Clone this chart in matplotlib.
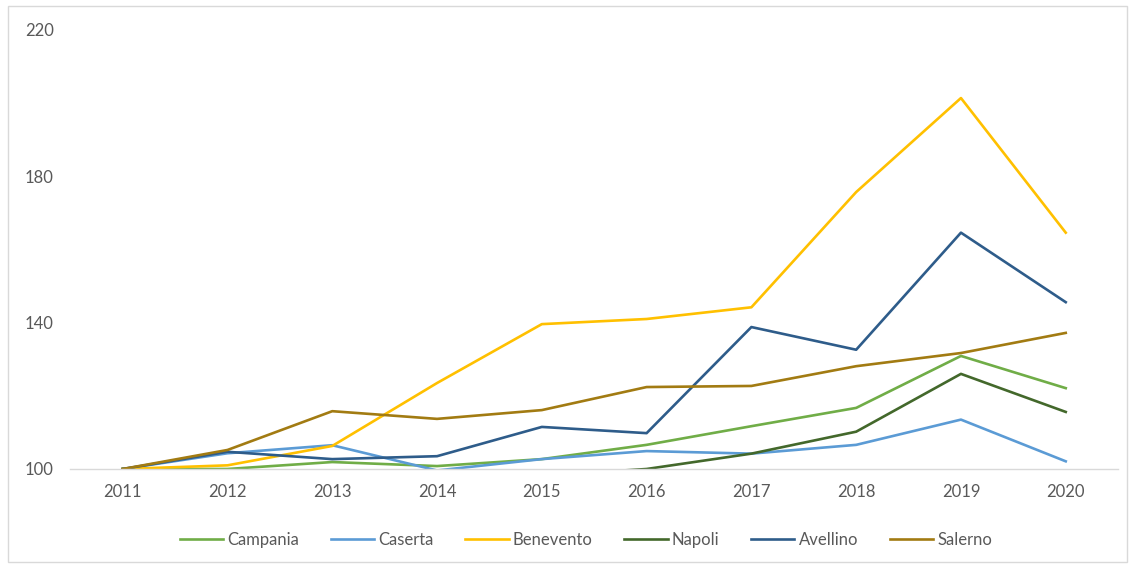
import matplotlib.pyplot as plt
from matplotlib.patches import Rectangle

# Index values (2011 = 100)
years = [2011, 2012, 2013, 2014, 2015, 2016, 2017, 2018, 2019, 2020]
campania = [100, 100.0, 101.9, 100.8, 102.7, 106.6, 111.7, 116.7, 130.9, 122.1]
caserta = [100, 104.3, 106.5, 99.6, 102.7, 104.9, 104.2, 106.6, 113.5, 102.1]
benevento = [100, 101.0, 106.3, 123.5, 139.6, 141.0, 144.2, 175.7, 201.4, 164.6]
napoli = [100, 97.0, 96.0, 96.0, 98.2, 100.0, 104.2, 110.2, 126.0, 115.6]
avellino = [100, 104.7, 102.7, 103.5, 111.5, 109.8, 138.8, 132.6, 164.6, 145.6]
salerno = [100, 105.2, 115.8, 113.7, 116.1, 122.4, 122.7, 128.1, 131.7, 137.2]

series = [
    ("Campania", campania, "#70AD47"),
    ("Caserta", caserta, "#5B9BD5"),
    ("Benevento", benevento, "#FFC000"),
    ("Napoli", napoli, "#43682B"),
    ("Avellino", avellino, "#2E5C8A"),
    ("Salerno", salerno, "#A27B12"),
]

plt.rcParams['font.family'] = ['Lato', 'DejaVu Sans']

fig = plt.figure(figsize=(11.34, 5.68), dpi=100)
ax = fig.add_axes([0.062, 0.1743, 0.924, 0.7729])

for name, vals, color in series:
    ax.plot(years, vals, color=color, linewidth=1.9, label=name,
            solid_joinstyle='round')

ax.set_xlim(2010.5, 2020.5)
ax.set_ylim(100, 220)
ax.set_xticks(years)
ax.set_yticks([100, 140, 180, 220])
ax.tick_params(axis='both', length=0, labelsize=12, colors="#595959")
ax.tick_params(axis='x', pad=11)
ax.tick_params(axis='y', pad=12)

for s in ['top', 'right', 'left']:
    ax.spines[s].set_visible(False)
ax.spines['bottom'].set_color("#D9D9D9")
ax.spines['bottom'].set_linewidth(1)

leg = ax.legend(loc='center', bbox_to_anchor=(0.492, -0.162), ncol=6,
                frameon=False, fontsize=12, handlelength=2.6,
                handletextpad=0.25, columnspacing=1.9)
for t in leg.get_texts():
    t.set_color("#595959")

# outer chart border
fig.patches.append(Rectangle((0.007, 0.01), 0.987, 0.98, transform=fig.transFigure,
                             fill=False, edgecolor="#D9D9D9", linewidth=1))

fig.savefig("out.png", dpi=100)
